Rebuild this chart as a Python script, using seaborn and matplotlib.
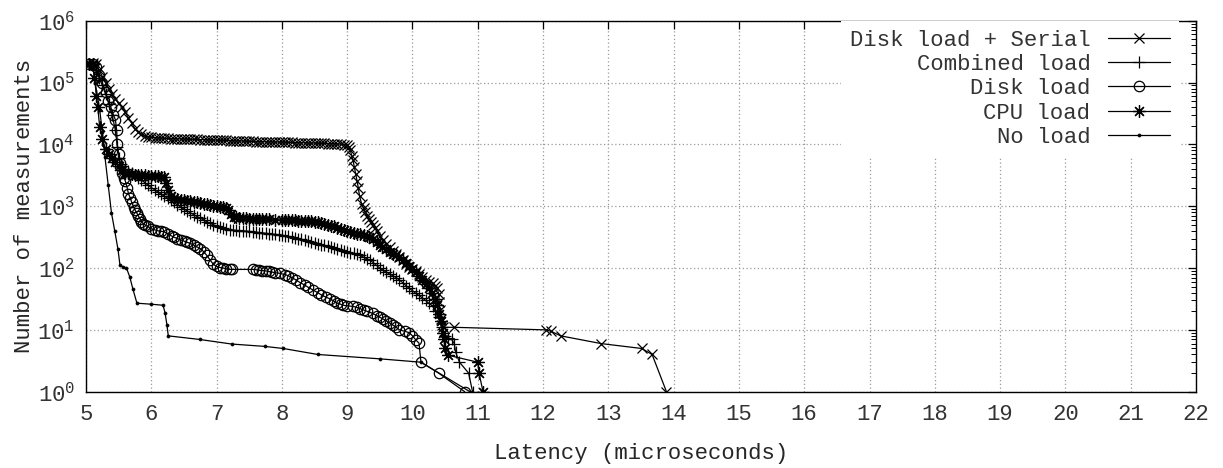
import matplotlib
matplotlib.use("Agg")
import matplotlib.pyplot as plt
from matplotlib.lines import Line2D
from matplotlib.ticker import FixedLocator, LogLocator, FuncFormatter, NullFormatter
import numpy as np
import pandas as pd
import seaborn as sns

# ---------------- data ----------------
serial_pts = [
    (5.05, 2.1e5), (5.10, 2.1e5), (5.15, 2.0e5), (5.20, 1.6e5), (5.25, 1.25e5), (5.30, 1.0e5),
    (5.35, 8.0e4), (5.40, 6.5e4), (5.45, 5.5e4), (5.50, 4.6e4), (5.55, 4.0e4), (5.60, 3.3e4),
    (5.65, 2.7e4), (5.70, 2.2e4), (5.75, 1.8e4), (5.80, 1.6e4), (5.85, 1.45e4), (5.90, 1.38e4),
    (5.95, 1.33e4), (6.00, 1.3e4), (6.05, 1.28e4), (6.10, 1.27e4), (6.15, 1.26e4), (6.20, 1.25e4),
    (6.25, 12450), (6.30, 12400), (6.35, 12350), (6.40, 12300), (6.45, 12250), (6.50, 12200),
    (6.55, 12150), (6.60, 12100), (6.65, 12050), (6.70, 12000), (6.75, 11950), (6.80, 11900),
    (6.85, 11850), (6.90, 11800), (6.95, 11750), (7.00, 11700), (7.05, 11650), (7.10, 11600),
    (7.15, 11550), (7.20, 11500), (7.25, 11450), (7.30, 11400), (7.35, 11350), (7.40, 11300),
    (7.45, 11250), (7.50, 11200), (7.55, 11150), (7.60, 11100), (7.65, 11050), (7.70, 11000),
    (7.75, 11000), (7.80, 10950), (7.85, 10950), (7.90, 10900), (7.95, 10900), (8.00, 10850),
    (8.05, 10850), (8.10, 10800), (8.15, 10750), (8.20, 10700), (8.25, 10650), (8.30, 10600),
    (8.35, 10600), (8.40, 10550), (8.45, 10500), (8.50, 10500), (8.55, 10450), (8.60, 10400),
    (8.65, 10350), (8.70, 10300), (8.75, 10250), (8.80, 10200), (8.85, 10150), (8.90, 10050),
    (8.95, 9950), (9.00, 9800), (9.03, 9200), (9.05, 8000), (9.07, 6500), (9.09, 5500),
    (9.11, 4300), (9.13, 3300), (9.15, 2600), (9.17, 2000), (9.19, 1450), (9.22, 1100),
    (9.25, 920), (9.28, 800), (9.31, 700), (9.34, 620), (9.37, 560), (9.40, 500), (9.43, 440),
    (9.46, 390), (9.50, 330), (9.55, 280), (9.60, 245), (9.65, 215), (9.70, 190), (9.75, 170),
    (9.80, 152), (9.85, 135), (9.90, 118), (9.95, 105), (10.00, 97), (10.05, 90), (10.10, 80),
    (10.15, 72), (10.20, 65), (10.25, 60), (10.31, 57), (10.35, 52), (10.38, 48), (10.40, 38),
    (10.41, 28), (10.42, 21), (10.43, 15), (10.45, 12), (10.47, 11), (10.64, 11), (12.04, 10),
    (12.12, 9.5), (12.27, 8), (12.89, 6), (13.51, 5), (13.67, 4), (13.89, 1)]

combined_pts = [
    (5.05, 2.0e5), (5.10, 2.0e5), (5.15, 1.6e5), (5.20, 1.2e5), (5.25, 9e4), (5.30, 6.5e4),
    (5.35, 4.5e4), (5.40, 3e4), (5.45, 1.7e4), (5.48, 9e3), (5.50, 6e3), (5.53, 4.8e3),
    (5.55, 4.4e3), (5.60, 4.0e3), (5.65, 3.7e3), (5.70, 3.4e3), (5.75, 3.15e3), (5.80, 2.9e3),
    (5.85, 2.65e3), (5.90, 2.4e3), (5.95, 2.2e3), (6.00, 2.0e3), (6.05, 1.85e3), (6.10, 1.7e3),
    (6.15, 1.57e3), (6.20, 1.45e3), (6.25, 1.35e3), (6.30, 1.25e3), (6.35, 1.15e3), (6.40, 1.05e3),
    (6.45, 970), (6.50, 900), (6.55, 840), (6.60, 780), (6.65, 730), (6.70, 680), (6.75, 640),
    (6.80, 600), (6.85, 560), (6.90, 530), (6.95, 500), (7.00, 480), (7.05, 460), (7.10, 440),
    (7.15, 425), (7.20, 415), (7.25, 410), (7.30, 405), (7.35, 402), (7.40, 400), (7.45, 395),
    (7.50, 390), (7.55, 385), (7.60, 380), (7.65, 375), (7.70, 370), (7.75, 365), (7.80, 360),
    (7.85, 355), (7.90, 350), (7.95, 345), (8.00, 340), (8.05, 332), (8.10, 325), (8.15, 318),
    (8.20, 310), (8.25, 300), (8.30, 290), (8.35, 280), (8.40, 270), (8.45, 262), (8.50, 255),
    (8.55, 248), (8.60, 240), (8.65, 232), (8.70, 225), (8.75, 218), (8.80, 210), (8.85, 203),
    (8.90, 197), (8.95, 191), (9.00, 185), (9.05, 178), (9.10, 172), (9.15, 166), (9.20, 160),
    (9.25, 150), (9.30, 142), (9.35, 133), (9.40, 122), (9.45, 110), (9.50, 100), (9.55, 92),
    (9.60, 86), (9.65, 80), (9.70, 75), (9.75, 70), (9.80, 64), (9.85, 58), (9.90, 52),
    (9.95, 47), (10.00, 43), (10.05, 39), (10.10, 36), (10.15, 33), (10.20, 30), (10.25, 27),
    (10.31, 24), (10.35, 20), (10.40, 16), (10.45, 11), (10.50, 8), (10.55, 7.5), (10.60, 7),
    (10.64, 6), (10.66, 4.4), (10.72, 3), (10.86, 2), (10.92, 1)]

disk_pts = [
    (5.05, 2e5), (5.10, 2e5), (5.15, 1.8e5), (5.20, 1.3e5), (5.25, 1e5), (5.30, 7e4),
    (5.34, 5e4), (5.38, 4e4), (5.42, 3e4), (5.45, 2.5e4), (5.47, 1.7e4), (5.48, 1e4),
    (5.50, 7e3), (5.52, 5e3), (5.55, 3.4e3), (5.58, 2.9e3), (5.60, 2.6e3), (5.63, 2e3),
    (5.65, 1.6e3), (5.68, 1.35e3), (5.70, 1.15e3), (5.73, 980), (5.75, 870), (5.78, 770),
    (5.80, 700), (5.83, 620), (5.85, 560), (5.88, 520), (5.90, 500), (5.95, 470), (6.00, 430),
    (6.05, 415), (6.10, 400), (6.15, 392), (6.20, 385), (6.25, 360), (6.31, 330), (6.35, 315),
    (6.40, 300), (6.45, 285), (6.51, 270), (6.55, 260), (6.60, 250), (6.65, 235), (6.70, 220),
    (6.75, 205), (6.80, 185), (6.85, 160), (6.90, 135), (6.95, 115), (7.00, 106), (7.05, 102),
    (7.10, 100), (7.15, 97), (7.20, 95), (7.23, 95), (7.56, 95), (7.60, 94), (7.65, 92),
    (7.70, 91), (7.75, 90), (7.80, 88), (7.85, 86), (7.90, 84), (7.97, 82), (8.05, 78),
    (8.10, 75), (8.15, 70), (8.22, 64), (8.28, 58), (8.35, 53), (8.40, 49), (8.48, 44),
    (8.55, 40), (8.60, 37), (8.67, 34), (8.73, 32), (8.80, 29), (8.85, 27), (8.90, 26),
    (8.94, 25), (9.00, 24.5), (9.09, 24), (9.15, 23), (9.20, 22), (9.25, 21), (9.30, 20),
    (9.39, 18.5), (9.45, 17), (9.50, 16), (9.55, 15), (9.60, 14), (9.65, 13), (9.70, 12),
    (9.75, 11), (9.80, 10), (9.88, 9.5), (9.95, 9), (10.00, 8), (10.05, 6.9), (10.10, 6.1),
    (10.13, 3), (10.40, 2), (10.80, 1)]

cpu_pts = [
    (5.05, 2e5), (5.10, 2e5), (5.13, 1.2e5), (5.16, 6e4), (5.18, 4e4), (5.21, 1.9e4),
    (5.25, 1.2e4), (5.30, 8.5e3), (5.35, 7e3), (5.40, 6e3), (5.45, 5.2e3), (5.50, 4.5e3),
    (5.55, 3.9e3), (5.60, 3.5e3), (5.65, 3.4e3), (5.70, 3.3e3), (5.75, 3.25e3), (5.80, 3.2e3),
    (5.85, 3.17e3), (5.90, 3.15e3), (5.95, 3.12e3), (6.00, 3.1e3), (6.05, 3.07e3), (6.10, 3.05e3),
    (6.15, 3.02e3), (6.20, 3.0e3), (6.23, 2.4e3), (6.26, 1.8e3), (6.30, 1.45e3), (6.35, 1.35e3),
    (6.40, 1.3e3), (6.45, 1.27e3), (6.50, 1.25e3), (6.55, 1.22e3), (6.60, 1.2e3), (6.65, 1.17e3),
    (6.70, 1.15e3), (6.75, 1.12e3), (6.80, 1.1e3), (6.85, 1.07e3), (6.90, 1.05e3), (6.95, 1.02e3),
    (7.00, 1.0e3), (7.05, 985), (7.10, 970), (7.15, 940), (7.18, 880), (7.22, 750), (7.27, 680),
    (7.30, 665), (7.35, 655), (7.40, 650), (7.45, 640), (7.50, 630), (7.55, 625), (7.60, 620),
    (7.65, 617), (7.70, 615), (7.75, 612), (7.80, 610), (7.90, 605), (8.00, 600), (8.05, 597),
    (8.10, 595), (8.15, 592), (8.20, 590), (8.25, 587), (8.30, 585), (8.35, 582), (8.40, 580),
    (8.45, 570), (8.50, 560), (8.55, 550), (8.60, 540), (8.65, 520), (8.70, 500), (8.75, 485),
    (8.80, 470), (8.85, 450), (8.90, 430), (8.95, 415), (9.00, 400), (9.05, 385), (9.10, 370),
    (9.15, 360), (9.20, 350), (9.25, 340), (9.30, 330), (9.34, 320), (9.40, 290), (9.45, 260),
    (9.50, 240), (9.54, 220), (9.60, 200), (9.65, 185), (9.70, 170), (9.75, 160), (9.80, 150),
    (9.85, 135), (9.90, 120), (9.95, 107), (10.00, 95), (10.05, 85), (10.10, 75), (10.15, 65),
    (10.20, 55), (10.25, 47), (10.30, 40), (10.34, 32), (10.38, 25), (10.41, 18), (10.43, 14),
    (10.46, 9), (10.48, 7), (10.50, 5), (10.54, 3.9), (11.00, 3), (11.02, 2), (11.08, 1)]

noload_pts = [
    (5.08, 2.0e5), (5.10, 2.0e5), (5.14, 1.0e5), (5.21, 3.6e4), (5.25, 1.6e4), (5.29, 6.3e3),
    (5.34, 2.2e3), (5.39, 780), (5.44, 400), (5.49, 200), (5.52, 112), (5.57, 104), (5.62, 100),
    (5.67, 72), (5.72, 45), (5.78, 27), (6.00, 26), (6.18, 25), (6.21, 19), (6.24, 12),
    (6.26, 8), (6.74, 7), (7.23, 5.9), (7.74, 5.4), (8.02, 5), (8.55, 4), (9.50, 3.4),
    (10.13, 3), (10.88, 1)]

series_labels = ["Disk load + Serial", "Combined load", "Disk load", "CPU load", "No load"]
x_ticks = list(range(5, 23))
y_exponents = [0, 1, 2, 3, 4, 5, 6]

# ---------------- styling ----------------
sns.set_theme(style="white")
plt.rcParams["font.family"] = ["Liberation Mono", "DejaVu Sans"]
plt.rcParams["mathtext.fontset"] = "custom"
plt.rcParams["mathtext.rm"] = "Liberation Mono"
plt.rcParams["mathtext.it"] = "Liberation Mono"
plt.rcParams["text.color"] = "#333333"

FS = 16
W, H = 1223, 468
fig = plt.figure(figsize=(W / 100, H / 100), dpi=100)
ax = fig.add_axes([86 / W, 1 - 391.7 / H, (1196 - 86) / W, (391.7 - 20.7) / H])
ax.set_yscale("log")

styles = [
    dict(marker="x", markersize=7, markeredgewidth=0.9),
    dict(marker="+", markersize=9, markeredgewidth=0.9),
    dict(marker="o", markersize=7.5, markeredgewidth=0.9, markerfacecolor="none"),
    dict(marker=(8, 2, 0), markersize=9, markeredgewidth=0.9),
    dict(marker="o", markersize=2.2, markeredgewidth=0.5, markerfacecolor="black"),
]
all_pts = [serial_pts, combined_pts, disk_pts, cpu_pts, noload_pts]

handles = []
for pts, st, lab in zip(all_pts, styles, series_labels):
    df = pd.DataFrame(pts, columns=["x", "y"])
    sns.lineplot(data=df, x="x", y="y", ax=ax, sort=False, estimator=None,
                 color="black", lw=0.9, markeredgecolor="black", legend=False,
                 zorder=3, **st)
    handles.append(Line2D([], [], color="black", lw=0.9, markeredgecolor="black", **st))

ax.set_xlim(5, 22)
ax.set_ylim(1, 1e6)

ax.xaxis.set_major_locator(FixedLocator(x_ticks))
ax.yaxis.set_major_locator(FixedLocator([10.0 ** e for e in y_exponents]))
ax.yaxis.set_minor_locator(LogLocator(base=10, subs=np.arange(2, 10), numticks=20))
ax.yaxis.set_minor_formatter(NullFormatter())
ax.yaxis.set_major_formatter(FuncFormatter(lambda v, p: r"$\mathdefault{10^{%d}}$" % round(np.log10(v))))
ax.xaxis.set_major_formatter(FuncFormatter(lambda v, p: "%d" % v))

ax.tick_params(which="both", direction="in", top=True, right=True, colors="black",
               labelcolor="#333333", labelsize=FS)
ax.tick_params(which="major", length=6, width=0.9)
ax.tick_params(which="minor", length=3.5, width=0.7)
ax.tick_params(axis="x", pad=9)
ax.tick_params(axis="y", pad=8)

ax.grid(True, which="major", color="#9a9a9a", linestyle=(0, (1, 2)), linewidth=0.9, zorder=0)
ax.set_axisbelow(True)
for s in ax.spines.values():
    s.set_color("black")
    s.set_linewidth(1.0)

ax.set_xlabel("Latency (microseconds)", fontsize=FS, labelpad=13)
ax.set_ylabel("Number of measurements", fontsize=FS, labelpad=2)

leg = ax.legend(handles, series_labels, loc="upper right", bbox_to_anchor=(0.985, 1.0),
                frameon=True, facecolor="white", edgecolor="none", framealpha=1,
                fancybox=False, markerfirst=False, handlelength=2.8, handletextpad=0.8,
                fontsize=FS, labelspacing=0.15, borderpad=0.4, borderaxespad=0.0)
leg.set_zorder(5)
for col in leg._legend_handle_box.get_children():
    col.align = "right"

fig.savefig("out.png", dpi=100)
